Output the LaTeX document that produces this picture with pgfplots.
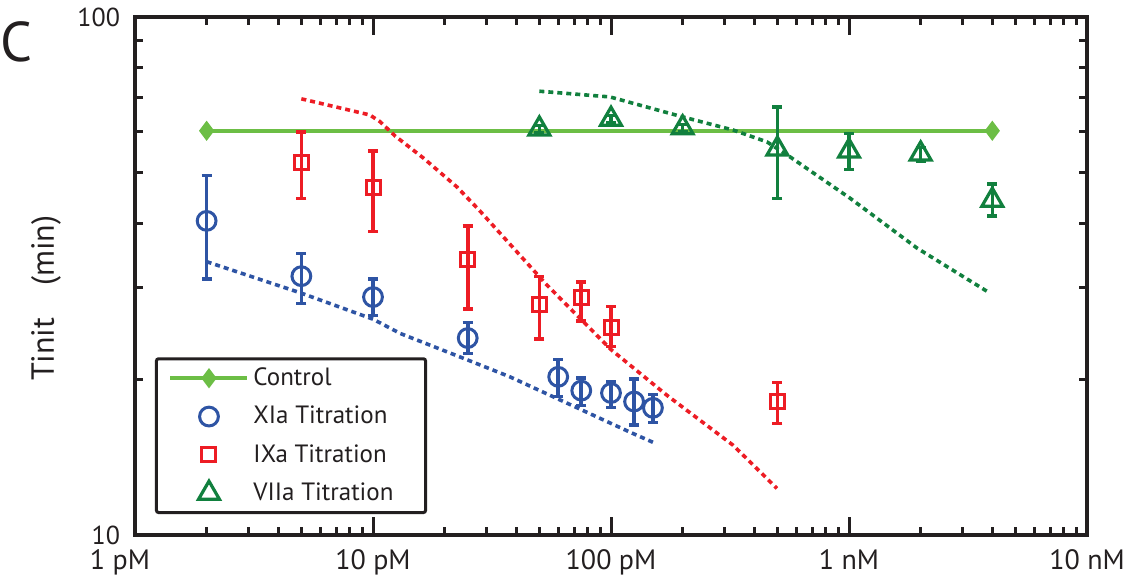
\documentclass[border=0pt]{standalone}
\usepackage{fontspec}
\setmainfont{PT Sans}
\usepackage{pgfplots}
\usepackage{pgfplotstable}
\pgfplotsset{compat=1.18}

\definecolor{ink}{RGB}{35,31,32}
\definecolor{ctrl}{RGB}{108,190,69}
\definecolor{xia}{RGB}{46,84,164}
\definecolor{ixa}{RGB}{237,28,36}
\definecolor{viia}{RGB}{17,128,62}

% concentration (pM), T_init (min), error up, error down
\pgfplotstableread{
x    y     ep    em
2    40.4  9.1   9.2
5    31.6  3.4   3.6
10   28.8  2.4   2.3
25   24.0  1.7   1.6
60   20.2  1.6   1.7
75   19.0  1.1   1.2
100  18.8  1.0   1.2
125  18.1  1.9   1.8
150  17.6  1.1   1.1
}\xiadata

\pgfplotstableread{
x    y     ep    em
5    52.3  7.7   7.6
10   46.8  8.3   8.3
25   34.0  5.5   6.7
50   27.8  3.8   3.9
75   28.7  2.1   2.8
100  25.2  2.4   2.1
500  18.1  1.6   1.7
}\ixadata

\pgfplotstableread{
x     y     ep    em
50    60.8  1.0   1.0
100   63.5  1.0   1.0
200   61.1  1.0   1.0
500   55.6  11.4  10.9
1000  55.1  4.4   4.4
2000  54.4  1.5   1.7
4000  44.3  3.3   3.0
}\viiadata

% model curves
\pgfplotstableread{
x     y
2     33.7
5     29.3
10    26.1
13    24.5
23.6  22.0
37.6  20.2
120   15.8
150   15.1
}\xiafit

\pgfplotstableread{
x     y
5     69.5
9.7   64.7
10.7  62.8
12.4  58.9
16.3  53.4
22.5  47.0
27.9  42.4
53.7  30.4
100   22.8
172   18.6
326   14.9
498   12.3
}\ixafit

\pgfplotstableread{
x     y
50    71.9
99    70.1
201   64.1
326   60.5
452   57.4
565   53.7
1009  44.7
1931  35.8
3912  29.3
}\viiafit

\pgfplotsset{
  titration/.style={
    only marks,
    error bars/.cd, y dir=both, y explicit,
    error bar style={line width=1.8pt},
    error mark=|,
    error mark options={line width=1.6pt, mark size=2.5pt},
  },
  fit/.style={forget plot, no marks, line width=1.8pt, dash pattern=on 2.5pt off 2pt},
}

\begin{document}
\begin{tikzpicture}
\begin{axis}[
  at={(0,0)}, anchor=south west,
  scale only axis, width=476pt, height=259pt,
  xmode=log, ymode=log,
  xmin=1, xmax=10000, ymin=10, ymax=100,
  xtick={1,10,100,1000,10000},
  xticklabels={\makebox[0pt]{1 pM\hspace{15pt}},10 pM,100 pM,1 nM,10 nM},
  minor xtick={2,3,4,5,6,7,8,9,20,30,40,50,60,70,80,90,200,300,400,500,600,700,800,900,2000,3000,4000,5000,6000,7000,8000,9000},
  ytick={10,100}, yticklabels={10,100},
  minor ytick={20,30,40,50,60,70,80,90},
  tick align=inside,
  major tick length=9pt, minor tick length=4pt,
  every tick/.style={ink, line width=1.5pt},
  axis line style={ink, line width=2pt},
  xticklabel style={font=\fontsize{14}{16}\selectfont, text=ink, yshift=-4pt},
  yticklabel style={font=\fontsize{13}{15}\selectfont, text=ink, xshift=-4pt},
  ylabel={Tinit\hspace{16pt}(min)},
  ylabel style={at={(axis description cs:-0.0935,0.457)}, anchor=center,
    font=\fontsize{16}{18}\selectfont, text=ink},
  legend cell align=left,
  legend style={
    at={(rel axis cs:0.021,0.0405)}, anchor=south west,
    draw=ink, line width=1.5pt, fill=white, rounded corners=1pt,
    font=\fontsize{12.5}{14}\selectfont, text=ink,
    inner xsep=6pt, inner ysep=2.5pt, row sep=4.8pt},
  legend image code/.code={
    \draw[mark repeat=2, mark phase=2, #1]
      plot coordinates {(0pt,0pt) (19.25pt,0pt) (38.5pt,0pt)};},
  clip=false,
]

% control
\addplot[ctrl, line width=2pt, mark=diamond*, mark size=4.25pt,
  mark options={fill=ctrl, line width=1pt}]
  coordinates {(2,60.3) (4000,60.3)};
\addlegendentry{Control}

% titrations
\addplot[xia, mark=o, mark size=4.7pt,
  mark options={line width=1.5pt, fill=none}, titration]
  table[x=x, y=y, y error plus=ep, y error minus=em] {\xiadata};
\addlegendentry{XIa Titration}

\addplot[ixa, mark=square, mark size=3.5pt,
  mark options={line width=1.5pt, fill=none}, titration]
  table[x=x, y=y, y error plus=ep, y error minus=em] {\ixadata};
\addlegendentry{IXa Titration}

\addplot[viia, mark=triangle, mark size=6pt,
  mark options={line width=1.6pt, fill=none}, titration]
  table[x=x, y=y, y error plus=ep, y error minus=em] {\viiadata};
\addlegendentry{VIIa Titration\hspace*{8pt}}

% model fits
\addplot[fit, xia]  table[x=x, y=y] {\xiafit};
\addplot[fit, ixa]  table[x=x, y=y] {\ixafit};
\addplot[fit, viia] table[x=x, y=y] {\viiafit};

\node[font=\fontsize{28}{30}\selectfont, text=ink, anchor=center]
  at (axis description cs:-0.124,0.952) {C};
\end{axis}
\pgfresetboundingbox
\path[use as bounding box] (-67.5pt,-23.5pt) rectangle (494pt,267.5pt);
\end{tikzpicture}
\end{document}
